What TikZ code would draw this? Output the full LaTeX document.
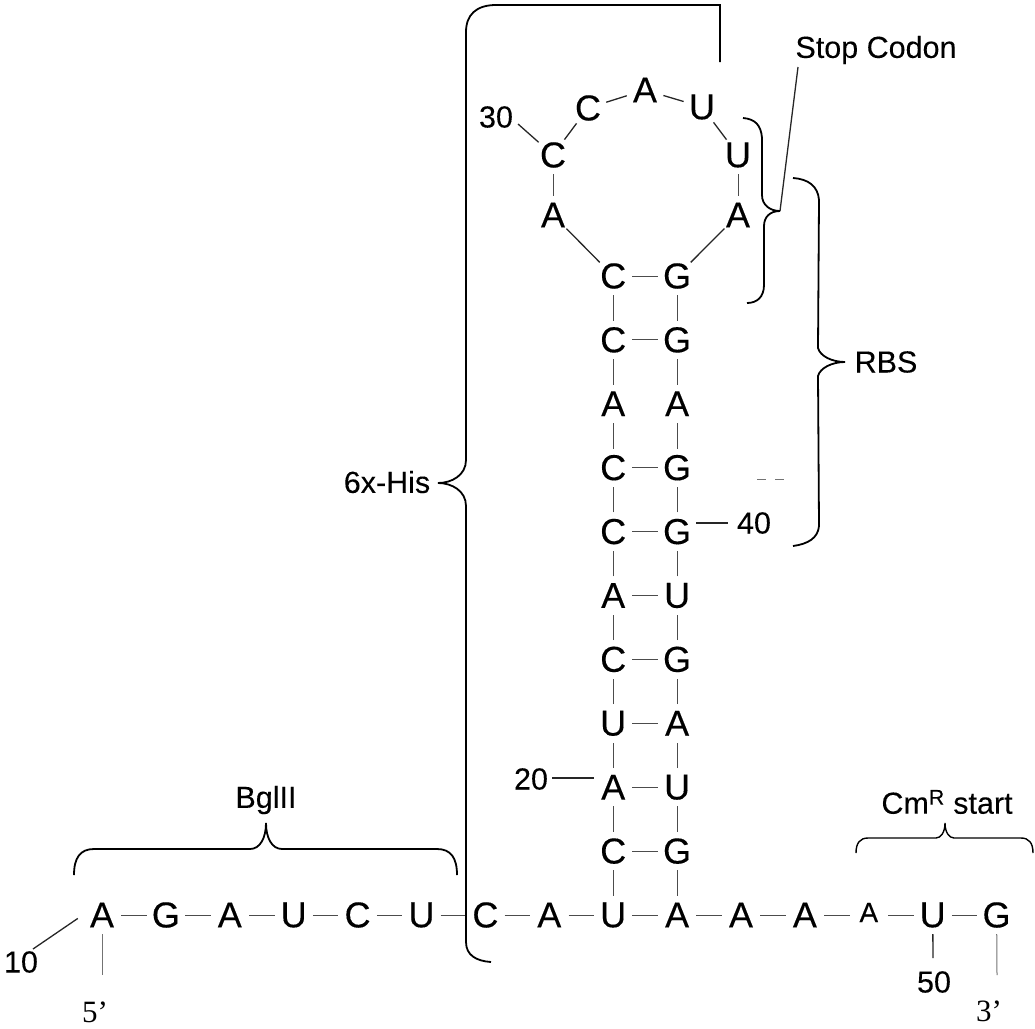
\documentclass[tikz,border=0pt]{standalone}
\usepackage{fontspec}
\setmainfont[FakeBold=0.1]{Liberation Sans}
\newfontfamily\basefont[FakeBold=0.3]{Liberation Sans}
\newfontfamily\primefont{Liberation Serif}
\usetikzlibrary{positioning, shapes.geometric}
\usetikzlibrary{calc}
\tikzstyle{base} = [circle, inner sep=0pt, minimum size=38pt, font=\fontsize{36}{36}\selectfont\basefont]
\tikzstyle{smallbase} = [base, font=\fontsize{28}{28}\selectfont\basefont]
\tikzstyle{label} = [inner sep=0pt, font=\fontsize{30.5}{30.5}\selectfont]
\tikzstyle{prime} = [inner sep=0pt, font=\fontsize{31}{31}\selectfont\primefont]
\tikzstyle{bond} = [line width=1pt, draw=black!70]
\tikzstyle{tick} = [line width=1.3pt, draw=black!85]
\tikzstyle{bracket} = [line width=1.8pt, draw=black]
\tikzstyle{faint} = [line width=1pt, draw=black!55]
\begin{document}
\begin{tikzpicture}[x=1pt,y=-1pt,node distance=63.9pt]
		\useasboundingbox (0,0) rectangle (1035,1028);
		% strand
		\node (s1) [base] at (102,915) {A};
		\node (s2) [base, right of=s1] {G};
		\node (s3) [base, right of=s2] {A};
		\node (s4) [base, right of=s3] {U};
		\node (s5) [base, right of=s4] {C};
		\node (s6) [base, right of=s5] {U};
		\node (s7) [base, right of=s6] {C};
		\node (s8) [base, right of=s7] {A};
		\node (s9) [base, right of=s8] {U};
		\node (s10) [base, right of=s9] {A};
		\node (s11) [base, right of=s10] {A};
		\node (s12) [base, right of=s11] {A};
		\node (s13) [smallbase, right of=s12] {\raisebox{5pt}{A}};
		\node (s14) [base, right of=s13] {U};
		\node (s15) [base, right of=s14] {G};
		% stem
		\node (l1) [base, above of=s9] {C};
		\node (l2) [base, above of=l1] {A};
		\node (l3) [base, above of=l2] {U};
		\node (l4) [base, above of=l3] {C};
		\node (l5) [base, above of=l4] {A};
		\node (l6) [base, above of=l5] {C};
		\node (l7) [base, above of=l6] {C};
		\node (l8) [base, above of=l7] {A};
		\node (l9) [base, above of=l8] {C};
		\node (l10) [base, above of=l9] {C};
		\node (r1) [base, above of=s10] {G};
		\node (r2) [base, above of=r1] {U};
		\node (r3) [base, above of=r2] {A};
		\node (r4) [base, above of=r3] {G};
		\node (r5) [base, above of=r4] {U};
		\node (r6) [base, above of=r5] {G};
		\node (r7) [base, above of=r6] {G};
		\node (r8) [base, above of=r7] {A};
		\node (r9) [base, above of=r8] {G};
		\node (r10) [base, above of=r9] {G};
		% loop
		\node (p1) [base] at (553,215) {A};
		\node (p2) [base] at (553,155) {C};
		\node (p3) [base] at (588,108) {C};
		\node (p4) [base] at (645,90) {A};
		\node (p5) [base] at (702,107) {U};
		\node (p6) [base] at (738,155) {U};
		\node (p7) [base] at (738,215) {A};
		% labels
		\node (stop) [label] at (876,50) {Stop Codon};
		\node (rbs) [label] at (886,362) {RBS};
		\node (his) [label] at (387,482) {6x-His};
		\node (bgl) [label] at (266,800) {BglII};
		\node (cm) [label] at (947,802) {Cm\textsuperscript{R} start};
		\node (n30) [label] at (496,117) {30};
		\node (n40) [label] at (754,523) {40};
		\node (n20) [label] at (531,779) {20};
		\node (n10) [label] at (21,962) {10};
		\node (n50) [label] at (934,982) {50};
		\node (five) [prime] at (95,1012) {5’};
		\node (three) [prime] at (989,1011) {3’};
		\coordinate (c30) at (518,124);
		\coordinate (c40) at (728,523);
		\coordinate (c20) at (552,778);
		\coordinate (c10) at (33,949);
		\coordinate (c50) at (933,958);
		\coordinate (c5) at (102,975);
		\coordinate (c3) at (997,975);
		\coordinate (cstop) at (798,67);
		\coordinate (cbrace) at (780,211);
		% backbone
		\draw [bond](s1) -- (s2);
		\draw [bond](s2) -- (s3);
		\draw [bond](s3) -- (s4);
		\draw [bond](s4) -- (s5);
		\draw [bond](s5) -- (s6);
		\draw [bond](s6) -- (s7);
		\draw [bond](s7) -- (s8);
		\draw [bond](s8) -- (s9);
		\draw [bond](s9) -- (s10);
		\draw [bond](s10) -- (s11);
		\draw [bond](s11) -- (s12);
		\draw [bond](s12) -- (s13);
		\draw [bond](s13) -- (s14);
		\draw [bond](s14) -- (s15);
		\draw [bond](s9) -- (l1);
		\draw [bond](l1) -- (l2);
		\draw [bond](l2) -- (l3);
		\draw [bond](l3) -- (l4);
		\draw [bond](l4) -- (l5);
		\draw [bond](l5) -- (l6);
		\draw [bond](l6) -- (l7);
		\draw [bond](l7) -- (l8);
		\draw [bond](l8) -- (l9);
		\draw [bond](l9) -- (l10);
		\draw [bond](s10) -- (r1);
		\draw [bond](r1) -- (r2);
		\draw [bond](r2) -- (r3);
		\draw [bond](r3) -- (r4);
		\draw [bond](r4) -- (r5);
		\draw [bond](r5) -- (r6);
		\draw [bond](r6) -- (r7);
		\draw [bond](r7) -- (r8);
		\draw [bond](r8) -- (r9);
		\draw [bond](r9) -- (r10);
		% pairs
		\draw [bond](l1) -- (r1);
		\draw [bond](l2) -- (r2);
		\draw [bond](l3) -- (r3);
		\draw [bond](l4) -- (r4);
		\draw [bond](l5) -- (r5);
		\draw [bond](l6) -- (r6);
		\draw [bond](l7) -- (r7);
		\draw [bond](l9) -- (r9);
		\draw [bond](l10) -- (r10);
		% loop bonds
		\draw [tick](l10) -- (p1);
		\draw [bond](p1) -- (p2);
		\draw [tick](p2) -- (p3);
		\draw [tick](p3) -- (p4);
		\draw [tick](p4) -- (p5);
		\draw [tick](p5) -- (p6);
		\draw [bond](p6) -- (p7);
		\draw [tick](p7) -- (r10);
		% number ticks
		\draw [tick](c30) -- (p2);
		\draw [tick](r6.east |- c40) -- (c40);
		\draw [tick](c20) -- (l2.west |- c20);
		\draw [tick, shorten >=6pt](c10) -- (s1.west);
		\draw [tick](s14) -- (c50);
		\draw [faint](s1) -- (c5);
		\draw [faint](s15) -- (c3);
		\draw [tick](cstop) -- (cbrace);
		% brackets
		\draw [bracket] (720,62) -- (720,5) -- (496,5) .. controls (476,5) and (466,15) .. (466,32) -- (466,460) .. controls (466,475) and (452,483) .. (438,483) .. controls (452,483) and (466,491) .. (466,506) -- (466,942) .. controls (466,955) and (476,961) .. (491,962);
		\draw [bracket] (743,118) .. controls (755,119) and (761,125) .. (762,138) -- (762,195) .. controls (762,205) and (770,211) .. (780,211) .. controls (770,211) and (764,217) .. (764,226) -- (764,285) .. controls (764,297) and (757,303) .. (747,303);
		\draw [bracket] (793,178) .. controls (808,179) and (818,186) .. (819,200) -- (818,348) .. controls (820,356) and (832,362) .. (845,362) .. controls (832,362) and (820,368) .. (818,376) -- (819,526) .. controls (818,538) and (808,544) .. (793,546);
		\draw [bracket] (74,875) .. controls (74,858) and (80,849) .. (94,849) -- (250,849) .. controls (260,849) and (266,838) .. (266,823) .. controls (266,838) and (272,849) .. (282,849) -- (437,849) .. controls (451,849) and (457,858) .. (457,875);
		\draw [bracket, line width=1.4pt] (856,853) .. controls (856,843) and (860,838) .. (868,838) -- (936,838) .. controls (941,838) and (945,832) .. (945,823) .. controls (945,832) and (949,838) .. (954,838) -- (1021,838) .. controls (1029,838) and (1033,843) .. (1033,853);
		% stray marks
		\draw [faint, dash pattern=on 9pt off 9pt] (757,479) -- (785,479);
	\end{tikzpicture}
\end{document}
